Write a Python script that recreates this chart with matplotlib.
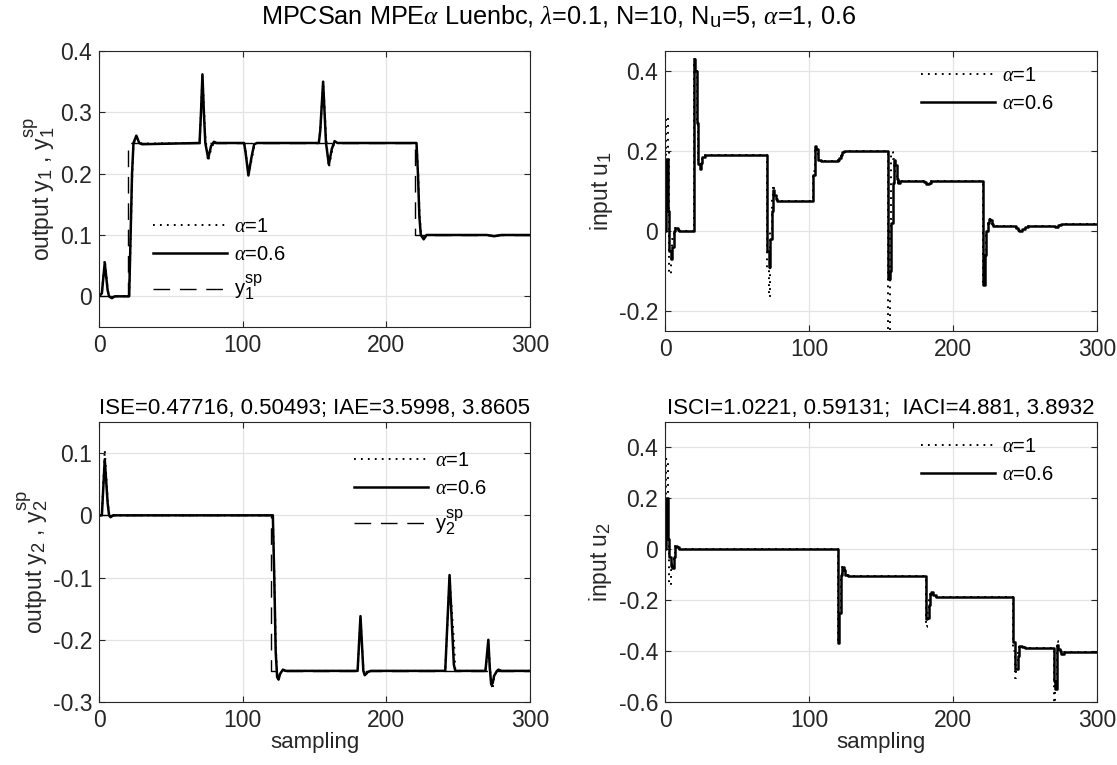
import numpy as np
import matplotlib
matplotlib.use('Agg')
import matplotlib.pyplot as plt
import matplotlib._mathtext as mathtext_mod

plt.rcParams['font.family'] = ['Liberation Sans', 'DejaVu Sans']
plt.rcParams['mathtext.fontset'] = 'custom'
plt.rcParams['mathtext.rm'] = 'Liberation Sans'
plt.rcParams['mathtext.it'] = 'Liberation Serif:italic'
plt.rcParams['lines.scale_dashes'] = False
# MATLAB tex sub/superscripts are larger than mathtext's default
mathtext_mod.SHRINK_FACTOR = 0.8

# ---- data (sample index, value) ----
# set points
y1sp_k = [0, 20, 20, 220, 220, 300]
y1sp_v = [0, 0, 0.25, 0.25, 0.1, 0.1]
y2sp_k = [0, 120, 120, 300]
y2sp_v = [0, 0, -0.25, -0.25]

# output y1, alpha=0.6
y1a_k = [0, 2, 4, 6, 7, 9, 11, 21, 22, 23, 24, 26, 28, 30, 70, 71, 72, 73, 74, 76, 78, 80, 82,
         101, 102, 104, 106, 108, 110, 153, 154, 156, 157, 158, 160, 162, 164, 166,
         221, 222, 223, 224, 226, 228, 230, 270, 275, 280, 300]
y1a_v = [0, 0.005, 0.055, 0.01, 0, -0.003, 0, 0, 0.1, 0.2, 0.25, 0.262, 0.25, 0.248, 0.25, 0.3, 0.362, 0.3, 0.25, 0.225, 0.245, 0.252, 0.25,
         0.25, 0.235, 0.197, 0.225, 0.248, 0.25, 0.25, 0.27, 0.35, 0.3, 0.25, 0.215, 0.24, 0.253, 0.25,
         0.25, 0.2, 0.13, 0.1, 0.093, 0.1, 0.1, 0.1, 0.098, 0.1, 0.1]
# output y1, alpha=1
y1b_k = [0, 2, 4, 6, 7, 9, 11, 21, 22, 23, 24, 26, 28, 30, 70, 71, 72, 73, 74, 76, 78, 80, 82,
         101, 102, 104, 106, 108, 110, 153, 154, 156, 157, 158, 160, 162, 164, 166,
         221, 222, 223, 224, 226, 228, 230, 270, 275, 280, 300]
y1b_v = [0, 0.005, 0.06, 0.012, 0, -0.003, 0, 0, 0.09, 0.19, 0.248, 0.26, 0.251, 0.249, 0.25, 0.3, 0.36, 0.31, 0.26, 0.22, 0.24, 0.251, 0.25,
         0.25, 0.238, 0.2, 0.22, 0.245, 0.25, 0.25, 0.27, 0.348, 0.31, 0.26, 0.21, 0.235, 0.252, 0.25,
         0.25, 0.21, 0.14, 0.105, 0.095, 0.1, 0.1, 0.1, 0.098, 0.1, 0.1]

# input u1 (held between samples)
u1a_k = [0, 1, 2, 3, 4, 5, 6, 7, 9, 10, 20, 21, 22, 23, 24, 25, 26, 28,
         71, 72, 73, 74, 75, 76, 77, 78, 103, 104, 105, 106, 108, 120, 121, 122, 123, 124,
         155, 156, 157, 158, 159, 160, 161, 162, 163, 180, 181, 183, 185,
         221, 222, 223, 224, 225, 226, 227, 228, 244, 245, 246, 248, 250, 252, 271, 273, 275, 277, 300]
u1a_v = [0, 0.18, 0.05, -0.05, -0.07, -0.04, 0.0, 0.008, 0.003, 0.0, 0.43, 0.40, 0.27, 0.168, 0.156, 0.17, 0.185, 0.189,
         -0.05, -0.09, -0.02, 0.05, 0.102, 0.09, 0.08, 0.075, 0.14, 0.2125, 0.205, 0.178, 0.176, 0.178, 0.183, 0.19, 0.197, 0.2,
         -0.12, -0.1, 0.02, 0.12, 0.177, 0.165, 0.13, 0.12, 0.124, 0.122, 0.118, 0.12, 0.124,
         -0.136, -0.06, 0.0, 0.02, 0.031, 0.027, 0.018, 0.0125, 0.008, 0.002, -0.001, 0.004, 0.01, 0.012, 0.01, 0.014, 0.018, 0.017, 0.017]
u1b_k = [0, 1, 2, 3, 4, 5, 6, 7, 9, 10, 20, 21, 22, 23, 24, 25, 26, 28,
         71, 72, 73, 74, 75, 76, 77, 78, 103, 104, 105, 106, 108, 120, 121, 122, 123, 124,
         155, 156, 157, 158, 159, 160, 161, 162, 163, 180, 181, 183, 185,
         221, 222, 223, 224, 225, 226, 227, 228, 244, 245, 246, 248, 250, 252, 271, 273, 275, 277, 300]
u1b_v = [0, 0.285, 0.2, -0.107, -0.05, -0.02, 0.005, 0.008, 0.003, 0.0, 0.43, 0.40, 0.27, 0.165, 0.157, 0.172, 0.186, 0.189,
         -0.1, -0.165, 0.0, 0.08, 0.114, 0.09, 0.08, 0.075, 0.15, 0.21, 0.2, 0.178, 0.176, 0.178, 0.183, 0.19, 0.197, 0.2,
         -0.25, 0.0, 0.197, 0.18, 0.16, 0.14, 0.13, 0.12, 0.124, 0.122, 0.118, 0.12, 0.124,
         -0.136, -0.06, 0.0, 0.02, 0.031, 0.027, 0.018, 0.0125, 0.008, 0.002, -0.001, 0.004, 0.01, 0.012, 0.01, 0.014, 0.018, 0.017, 0.017]

# output y2
y2a_k = [0, 2, 4, 6, 7, 8, 10, 121, 122, 123, 124, 125, 126, 128, 130,
         180, 182, 184, 185, 187, 189, 241, 244, 247, 248, 269, 271, 272, 273, 274, 275, 277, 278, 280, 300]
y2a_v = [0, 0.0, 0.09, 0.02, 0, -0.003, 0, 0, -0.1, -0.22, -0.26, -0.264, -0.255, -0.248, -0.25,
         -0.25, -0.162, -0.25, -0.257, -0.252, -0.25, -0.25, -0.096, -0.24, -0.25, -0.25, -0.2, -0.245, -0.272, -0.27, -0.258, -0.25, -0.248, -0.25, -0.25]
y2b_k = [0, 2, 4, 6, 7, 8, 10, 121, 122, 123, 124, 125, 126, 128, 130,
         180, 182, 184, 185, 187, 189, 241, 244, 247, 248, 269, 271, 272, 273, 274, 275, 277, 278, 280, 300]
y2b_v = [0, 0.0, 0.105, 0.025, 0, -0.003, 0, 0, -0.09, -0.21, -0.255, -0.262, -0.256, -0.249, -0.25,
         -0.25, -0.165, -0.245, -0.258, -0.252, -0.25, -0.25, -0.1, -0.2, -0.25, -0.25, -0.205, -0.24, -0.27, -0.28, -0.26, -0.25, -0.248, -0.25, -0.25]

# input u2 (held between samples)
u2a_k = [0, 1, 2, 3, 4, 5, 6, 7, 8, 10, 120, 121, 122, 123, 124, 125, 127,
         181, 182, 183, 184, 185, 186, 188, 242, 243, 244, 245, 246, 247, 248, 250,
         270, 271, 272, 273, 274, 275, 277, 300]
u2a_v = [0, 0.2, 0.04, -0.03, -0.065, -0.075, -0.03, 0.012, 0.008, 0.0, -0.37, -0.25, -0.1, -0.068, -0.08, -0.1, -0.105,
         -0.273, -0.27, -0.22, -0.175, -0.168, -0.18, -0.187, -0.366, -0.47, -0.47, -0.42, -0.38, -0.379, -0.382, -0.387,
         -0.517, -0.55, -0.376, -0.39, -0.4, -0.412, -0.405, -0.405]
u2b_k = [0, 1, 2, 3, 4, 5, 6, 7, 8, 10, 120, 121, 122, 123, 124, 125, 127,
         181, 182, 183, 184, 185, 186, 188, 242, 243, 244, 245, 246, 247, 248, 250,
         270, 271, 272, 273, 274, 275, 277, 300]
u2b_v = [0, 0.354, 0.05, -0.141, -0.08, -0.04, -0.02, 0.012, 0.008, 0.0, -0.37, -0.25, -0.1, -0.068, -0.08, -0.1, -0.105,
         -0.306, -0.25, -0.2, -0.175, -0.168, -0.18, -0.187, -0.4, -0.504, -0.45, -0.4, -0.38, -0.379, -0.382, -0.387,
         -0.603, -0.52, -0.359, -0.39, -0.4, -0.412, -0.405, -0.405]

suptitle = (r'MPCSan MPE$\alpha$ Luenbc, $\lambda$=0.1, N=10, N$_\mathrm{u}$=5, '
            r'$\alpha$=1, 0.6')
title_bl = 'ISE=0.47716, 0.50493; IAE=3.5998, 3.8605'
title_br = 'ISCI=1.0221, 0.59131;  IACI=4.881, 3.8932'
lab_a1 = r'$\alpha$=1'
lab_a06 = r'$\alpha$=0.6'

W, H = 1117, 765
fig = plt.figure(figsize=(W / 100, H / 100), dpi=100)

def px_axes(l, t, r, b):
    return fig.add_axes([l / W, 1 - b / H, (r - l) / W, (b - t) / H])

ax_tl = px_axes(99, 51, 530, 327)
ax_tr = px_axes(665, 51, 1097, 331)
ax_bl = px_axes(99, 422, 530, 702)
ax_br = px_axes(665, 422, 1097, 702)

dark = '#262626'
DOT = dict(color='black', lw=1.4, dashes=(1.3, 3.7))
SOL = dict(color='black', lw=1.8)
DASH = dict(color='black', lw=1.0, dashes=(12, 7))
LAB = 16.5


def style(ax, ylim, yticks, ylabels):
    ax.set_xlim(0, 300)
    ax.set_ylim(*ylim)
    ax.set_xticks([0, 100, 200, 300])
    ax.set_yticks(yticks)
    ax.set_yticklabels(ylabels)
    ax.grid(True, color='#e3e3e3', lw=0.9)
    ax.set_axisbelow(True)
    ax.tick_params(direction='in', top=True, right=True, length=4.5, width=0.8,
                   colors=dark, labelsize=16.5, pad=5)
    for s in ax.spines.values():
        s.set_color(dark)
        s.set_linewidth(0.8)


# y1
ax_tl.plot(y1b_k, y1b_v, label=lab_a1, **DOT)
ax_tl.plot(y1a_k, y1a_v, label=lab_a06, **SOL)
ax_tl.plot(y1sp_k, y1sp_v, label=r'y$_1^\mathrm{sp}$', **DASH)
style(ax_tl, (-0.05, 0.4), [0, 0.1, 0.2, 0.3, 0.4], ['0', '0.1', '0.2', '0.3', '0.4'])
ax_tl.set_ylabel(r'output y$_1$ , y$_1^\mathrm{sp}$', fontsize=LAB, color=dark, labelpad=2)

# u1
ax_tr.plot(u1b_k, u1b_v, drawstyle='steps-post', label=lab_a1, **DOT)
ax_tr.plot(u1a_k, u1a_v, drawstyle='steps-post', label=lab_a06, **SOL)
style(ax_tr, (-0.25, 0.45), [-0.2, 0, 0.2, 0.4], ['-0.2', '0', '0.2', '0.4'])
ax_tr.set_ylabel(r'input u$_1$', fontsize=LAB, color=dark, labelpad=3)

# y2
ax_bl.plot(y2b_k, y2b_v, label=lab_a1, **DOT)
ax_bl.plot(y2a_k, y2a_v, label=lab_a06, **SOL)
ax_bl.plot(y2sp_k, y2sp_v, label=r'y$_2^\mathrm{sp}$', **DASH)
style(ax_bl, (-0.3, 0.15), [-0.3, -0.2, -0.1, 0, 0.1], ['-0.3', '-0.2', '-0.1', '0', '0.1'])
ax_bl.set_ylabel(r'output y$_2$ , y$_2^\mathrm{sp}$', fontsize=LAB, color=dark, labelpad=2)
ax_bl.set_xlabel('sampling', fontsize=16, color=dark, labelpad=0)
ax_bl.set_title(title_bl, fontsize=16, color='black', pad=6)

# u2
ax_br.plot(u2b_k, u2b_v, drawstyle='steps-post', label=lab_a1, **DOT)
ax_br.plot(u2a_k, u2a_v, drawstyle='steps-post', label=lab_a06, **SOL)
style(ax_br, (-0.6, 0.5), [-0.6, -0.4, -0.2, 0, 0.2, 0.4],
      ['-0.6', '-0.4', '-0.2', '0', '0.2', '0.4'])
ax_br.set_ylabel(r'input u$_2$', fontsize=LAB, color=dark, labelpad=3)
ax_br.set_xlabel('sampling', fontsize=16, color=dark, labelpad=0)
ax_br.set_title(title_br, fontsize=16, color='black', pad=6)

leg_kw = dict(frameon=False, fontsize=14.5, handlelength=3.7, handletextpad=0.35,
              labelspacing=0.45, borderpad=0, borderaxespad=0, loc='upper left')
ax_tl.legend(bbox_to_anchor=(0.125, 0.40), **leg_kw)
ax_tr.legend(bbox_to_anchor=(0.592, 0.945), **leg_kw)
ax_bl.legend(bbox_to_anchor=(0.591, 0.895), **leg_kw)
ax_br.legend(bbox_to_anchor=(0.592, 0.945), **leg_kw)

fig.text(0.5, 1 - 17 / H, suptitle, ha='center', va='center', fontsize=18.2)

fig.savefig('out.png', dpi=100)
